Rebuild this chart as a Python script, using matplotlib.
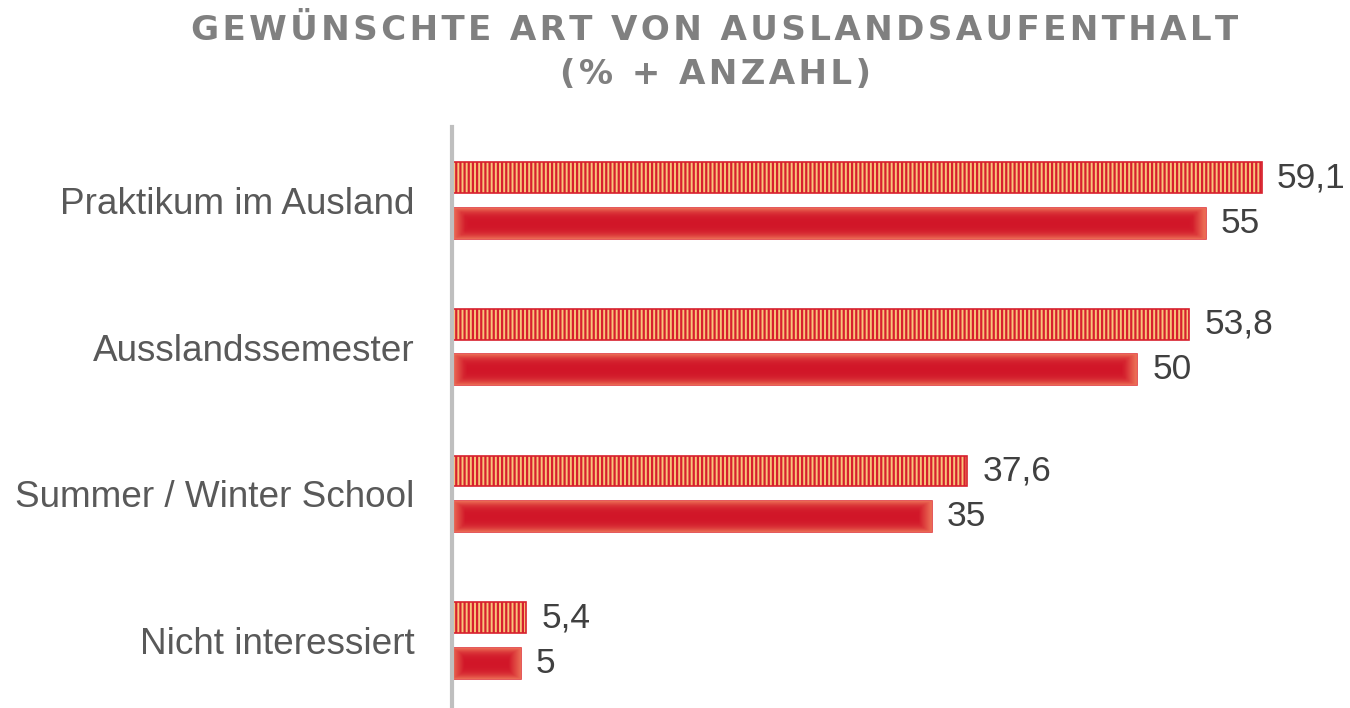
import numpy as np
import matplotlib.pyplot as plt
from matplotlib import rcParams

categories = ['Praktikum im Ausland', 'Ausslandssemester',
              'Summer / Winter School', 'Nicht interessiert']
prozent = [59.1, 53.8, 37.6, 5.4]
anzahl = [55, 50, 35, 5]
prozent_labels = ['59,1', '53,8', '37,6', '5,4']
anzahl_labels = ['55', '50', '35', '5']

rcParams['font.family'] = ['Liberation Sans', 'DejaVu Sans']
rcParams['hatch.linewidth'] = 1.6
rcParams['hatch.color'] = '#D7202E'

fig = plt.figure(figsize=(13.5, 7.08), dpi=100)
ax = fig.add_axes([452 / 1350, 0, 1 - 452 / 1350, 1 - 127 / 708])

y = np.arange(len(categories))
h = 0.21
off = 0.155

# hatched bars (percent)
bars1 = ax.barh(y - off, prozent, height=h, color='#F8C47A',
                edgecolor='#D7202E', hatch='||||', linewidth=1.2, zorder=2)

# solid bars (count) with soft gradient
bars2 = ax.barh(y + off, anzahl, height=h, color='#D2182A',
                edgecolor='#E03A3E', linewidth=1.2, zorder=2)

red = np.array([0.82, 0.09, 0.16])
light = np.array([0.92, 0.42, 0.33])
for b in bars2:
    x0, y0 = b.get_x(), b.get_y()
    w, hh = b.get_width(), b.get_height()
    ny, nx = 40, 200
    vy = np.abs(np.linspace(-1, 1, ny))[:, None]
    xs = np.linspace(0, w, nx)[None, :]
    edge = np.minimum(xs, w - xs)
    vx = np.clip(1 - edge / 0.9, 0, 1)
    t = np.clip(np.maximum(vy ** 3, vx), 0, 1)[..., None]
    img = red * (1 - t) + light * t
    im = ax.imshow(img, extent=(x0, x0 + w, y0 + hh, y0), aspect='auto',
                   interpolation='bilinear', zorder=2.5)
    im.set_clip_path(b)

for i in range(len(categories)):
    ax.annotate(prozent_labels[i], (prozent[i], y[i] - off),
                xytext=(11, 0), textcoords='offset points',
                va='center', ha='left', fontsize=25.5, color='#404040')
    ax.annotate(anzahl_labels[i], (anzahl[i], y[i] + off),
                xytext=(11, 0), textcoords='offset points',
                va='center', ha='left', fontsize=25.5, color='#404040')

ax.set_xlim(0, (1350 - 452) / 13.7)
ax.set_ylim(3.46, -0.5)
ax.set_yticks(y)
ax.set_yticklabels(categories, fontsize=26.6, color='#595959')
ax.tick_params(axis='y', length=0, pad=27)
ax.set_xticks([])
for s in ['top', 'right', 'bottom']:
    ax.spines[s].set_visible(False)
ax.spines['left'].set_color('#BFBFBF')
ax.spines['left'].set_linewidth(3)
ax.spines['left'].set_zorder(3)

def spaced(s):
    return '\u200a'.join(s)

fig.text(715 / 1350, 1 - 30 / 708, spaced('GEWÜNSCHTE ART VON AUSLANDSAUFENTHALT'),
         ha='center', va='center', fontsize=24.6, fontweight='bold',
         color='#808080', family=['DejaVu Sans'])
fig.text(715 / 1350, 1 - 75 / 708, spaced('(% + ANZAHL)'),
         ha='center', va='center', fontsize=24.6, fontweight='bold',
         color='#808080', family=['DejaVu Sans'])

fig.savefig('out.png', dpi=100)
